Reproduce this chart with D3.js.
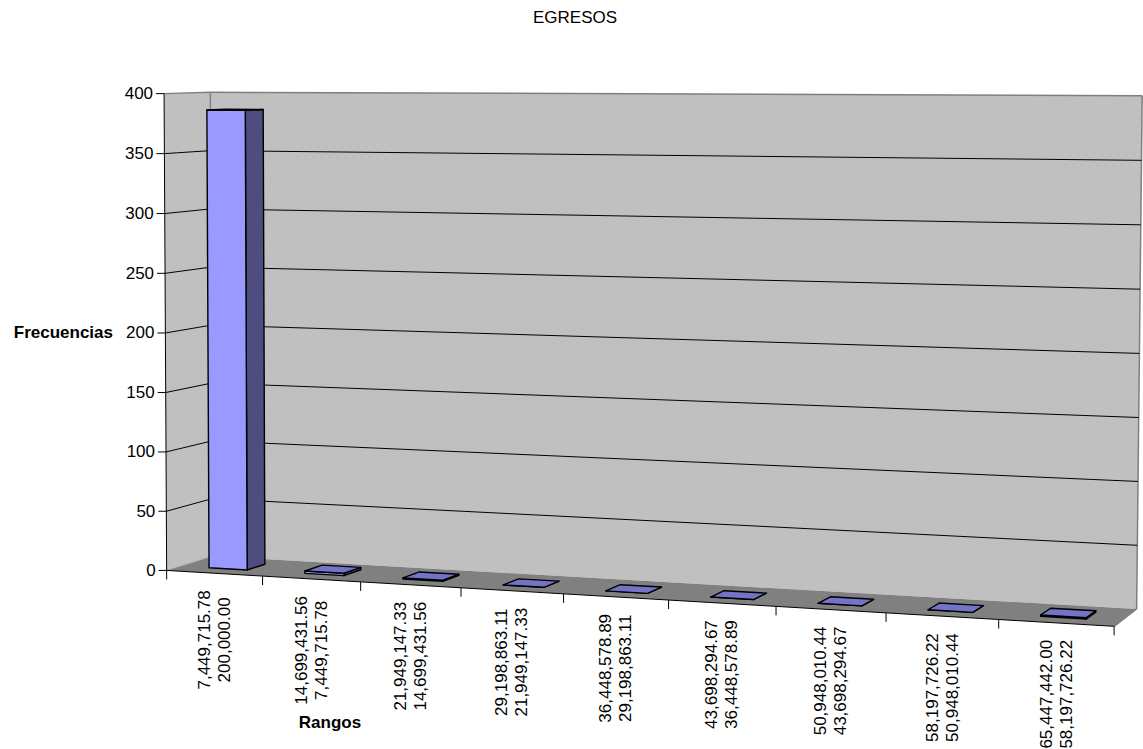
<!DOCTYPE html>
<html>
<head>
<meta charset="utf-8">
<script src="https://cdn.jsdelivr.net/npm/d3@7/dist/d3.min.js"></script>
<style>
  html, body { margin: 0; padding: 0; background: #fff; }
  svg { display: block; font-family: "Liberation Sans", Arial, sans-serif; }
</style>
</head>
<body>
<script>
// ---- data -------------------------------------------------------------
const lowerBounds = ["200,000.00", "7,449,715.78", "14,699,431.56", "21,949,147.33",
  "29,198,863.11", "36,448,578.89", "43,698,294.67", "50,948,010.44", "58,197,726.22"];
const upperBounds = ["7,449,715.78", "14,699,431.56", "21,949,147.33", "29,198,863.11",
  "36,448,578.89", "43,698,294.67", "50,948,010.44", "58,197,726.22", "65,447,442.00"];
const frequencies = [386, 2, 1, 0, 0, 0, 0, 0, 1];
const valueTicks = [0, 50, 100, 150, 200, 250, 300, 350, 400];
const chartTitle = "EGRESOS";
const yTitle = "Frecuencias";
const xTitle = "Rangos";

const W = 1143, H = 749;
const FONT = 17;
const categories = lowerBounds.map((d, i) => i);

// ---- scales (world units: x, y, z all in [0,1]) -------------------------
const xBand = d3.scaleBand().domain(categories).range([0, 1])
  .paddingInner(0.6).paddingOuter(0.3);
const yScale = d3.scaleLinear().domain([0, 400]).range([0, 1]);
const depth = { z0: 0.3, z1: 0.7 };

// ---- perspective camera: 3x4 projective matrix fitted to the frame box ----
const frameAnchors = [
  [[0, 0, 0], [168, 570]], [[0, 1, 0], [163, 93]], [[0, 1, 1], [212, 93]],
  [[0, 0, 1], [210, 557]], [[1, 0, 0], [1113, 627]], [[1, 0, 1], [1137, 608]],
  [[1, 1, 1], [1142, 96]]
];
[263, 361, 461, 562, 668, 776, 886, 1000].forEach((u, k) =>
  frameAnchors.push([[(k + 1) / 9, 0, 0], [u, 570 + (u - 168) * 57 / 945]]));
[543, 482, 418, 353, 289, 225, 161].forEach((v, k) =>
  frameAnchors.push([[1, (k + 1) / 8, 1], [1137 + 5 * (k + 1) / 8, v]]));
[512, 452, 393, 333, 273, 213, 153].forEach((v, k) =>
  frameAnchors.push([[0, (k + 1) / 8, 0], [168 - 5 * (k + 1) / 8, v]]));

function fitCamera(anchors) {
  const rows = [], rhs = [];
  anchors.forEach(([[x, y, z], [u, v]]) => {
    rows.push([x, y, z, 1, 0, 0, 0, 0, -u * x, -u * y, -u * z]); rhs.push(u);
    rows.push([0, 0, 0, 0, x, y, z, 1, -v * x, -v * y, -v * z]); rhs.push(v);
  });
  const n = 11;
  const N = Array.from({ length: n }, () => new Array(n + 1).fill(0));
  rows.forEach((r, k) => {
    for (let i = 0; i < n; i++) {
      for (let j = 0; j < n; j++) N[i][j] += r[i] * r[j];
      N[i][n] += r[i] * rhs[k];
    }
  });
  for (let c = 0; c < n; c++) {
    let p = c;
    for (let r = c + 1; r < n; r++) if (Math.abs(N[r][c]) > Math.abs(N[p][c])) p = r;
    [N[c], N[p]] = [N[p], N[c]];
    for (let r = 0; r < n; r++) {
      if (r === c) continue;
      const f = N[r][c] / N[c][c];
      for (let j = c; j <= n; j++) N[r][j] -= f * N[c][j];
    }
  }
  return N.map((row, i) => row[n] / row[i]);
}
const P = fitCamera(frameAnchors);
function project([x, y, z]) {
  const w = P[8] * x + P[9] * y + P[10] * z + 1;
  return [(P[0] * x + P[1] * y + P[2] * z + P[3]) / w,
          (P[4] * x + P[5] * y + P[6] * z + P[7]) / w];
}
const line = d3.line();
const poly = pts => line(pts.map(project)) + "Z";
const seg = (a, b) => line([project(a), project(b)]);

// ---- svg ---------------------------------------------------------------
const svg = d3.select("body").append("svg").attr("width", W).attr("height", H);

// walls and floor
const frame = svg.append("g");
frame.append("path").attr("d", poly([[0, 0, 0], [0, 0, 1], [0, 1, 1], [0, 1, 0]]))
  .attr("fill", "#c0c0c0");
frame.append("path").attr("d", poly([[0, 0, 1], [1, 0, 1], [1, 1, 1], [0, 1, 1]]))
  .attr("fill", "#c0c0c0");
frame.append("path").attr("d", poly([[0, 0, 0], [1, 0, 0], [1, 0, 1], [0, 0, 1]]))
  .attr("fill", "#808080");

// wall borders
const edgeStyle = s => s.attr("fill", "none").attr("stroke", "#7f7f7f").attr("stroke-width", 1.5);
[[[0, 1, 0], [0, 1, 1]], [[0, 1, 1], [1, 1, 1]], [[1, 1, 1], [1, 0, 1]],
 [[0, 1, 1], [0, 0, 1]], [[1, 0, 0], [1, 0, 1]]].forEach(([a, b]) =>
  frame.append("path").attr("d", seg(a, b)).call(edgeStyle));
frame.append("path").attr("d", seg([0, 0, 0], [0, 0, 1]))
  .attr("fill", "none").attr("stroke", "#a0a0a0").attr("stroke-width", 1)
  .attr("stroke-dasharray", "2,1");

// gridlines on side wall and back wall
const grid = svg.append("g");
valueTicks.filter(t => t > 0 && t < 400).forEach(t => {
  const y = yScale(t);
  grid.append("path")
    .attr("d", line([[0, y, 0], [0, y, 1], [1, y, 1]].map(project)))
    .attr("fill", "none").attr("stroke", "#000").attr("stroke-width", 1);
});

// columns
const bars = svg.append("g");
frequencies.forEach((f, i) => {
  const x0 = xBand(i), x1 = x0 + xBand.bandwidth(), h = yScale(f);
  const { z0, z1 } = depth;
  const g = bars.append("g").attr("stroke", "#000").attr("stroke-width", 1.4)
    .attr("stroke-linejoin", "round");
  g.append("path").attr("d", poly([[x1, 0, z0], [x1, 0, z1], [x1, h, z1], [x1, h, z0]]))
    .attr("fill", "#4d4d80");
  g.append("path").attr("d", poly([[x0, 0, z0], [x1, 0, z0], [x1, h, z0], [x0, h, z0]]))
    .attr("fill", "#9999ff");
  g.append("path").attr("d", poly([[x0, h, z0], [x1, h, z0], [x1, h, z1], [x0, h, z1]]))
    .attr("fill", "#7373c8");
});

// value axis on the front-left edge
const axes = svg.append("g").attr("stroke", "#000").attr("stroke-width", 1);
axes.append("path").attr("d", seg([0, 0, 0], [0, 1, 0])).attr("fill", "none");
valueTicks.forEach(t => {
  const [px, py] = project([0, yScale(t), 0]);
  axes.append("line").attr("x1", px - 8).attr("x2", px).attr("y1", py).attr("y2", py);
  svg.append("text").attr("x", px - 11).attr("y", py)
    .attr("text-anchor", "end").attr("dominant-baseline", "central")
    .attr("font-size", FONT).attr("fill", "#000").text(t);
});

// category axis on the front edge of the floor
axes.append("path").attr("d", seg([0, 0, 0], [1, 0, 0])).attr("fill", "none");
const step = xBand.step();
d3.range(categories.length + 1).forEach(k => {
  const [px, py] = project([k * step, 0, 0]);
  axes.append("line").attr("x1", px).attr("x2", px).attr("y1", py).attr("y2", py + 9);
});

// range labels: two rotated lines per category, upper bound first
const labels = svg.append("g").attr("font-size", FONT).attr("fill", "#000");
categories.forEach(i => {
  const [cx, cy] = project([xBand(i) + xBand.bandwidth() / 2, 0, 0]);
  const g = labels.append("g");
  const lines = [upperBounds[i], lowerBounds[i]];
  const texts = lines.map(s => g.append("text").attr("text-anchor", "middle")
    .attr("dominant-baseline", "central").text(s));
  const maxLen = d3.max(texts, t => t.node().getComputedTextLength());
  const top = cy + 17, mid = top + maxLen / 2;
  texts.forEach((t, j) => {
    const lx = cx + (j === 0 ? -10 : 10);
    t.attr("transform", `translate(${lx},${mid}) rotate(-90)`);
  });
});

// titles
svg.append("text").attr("x", 575).attr("y", 17).attr("text-anchor", "middle")
  .attr("dominant-baseline", "central").attr("font-size", FONT).text(chartTitle);
svg.append("text").attr("x", 113).attr("y", 332).attr("text-anchor", "end")
  .attr("dominant-baseline", "central").attr("font-size", FONT)
  .attr("font-weight", "bold").text(yTitle);
svg.append("text").attr("x", 330).attr("y", 722).attr("text-anchor", "middle")
  .attr("dominant-baseline", "central").attr("font-size", FONT)
  .attr("font-weight", "bold").text(xTitle);
</script>
</body>
</html>
